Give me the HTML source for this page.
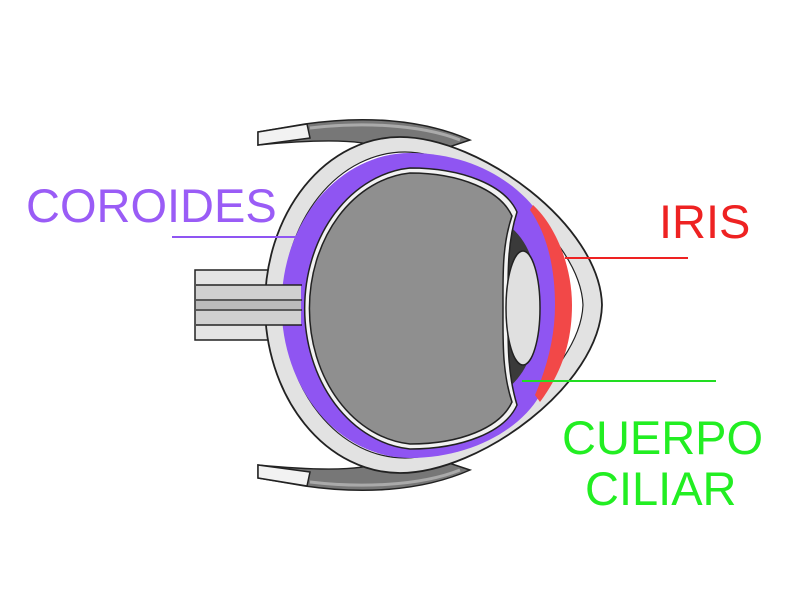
<!DOCTYPE html>
<html><head><style>
html,body{margin:0;padding:0;background:#fff;width:800px;height:600px;overflow:hidden}
svg{position:absolute;left:0;top:0}
.t{font-family:"Liberation Sans",sans-serif;font-size:47px}
</style></head><body>
<svg width="800" height="600" viewBox="0 0 800 600">
<g stroke="#222" stroke-width="1.5">
<path d="M258 132 L305 124 C360 116 420 118 470 140 L440 150 C410 145 390 148 385 150 C370 140 330 138 258 145 Z" fill="#777"/>
<path d="M258 132 L307 124 L310 138 L258 145 Z" fill="#f2f2f2"/>
<path d="M310 128 C360 122 420 124 460 140" fill="none" stroke="#aaa" stroke-width="3"/>
<path d="M258 478 L305 486 C360 494 420 492 470 470 L440 460 C410 465 390 462 385 460 C370 470 330 472 258 465 Z" fill="#777"/>
<path d="M258 478 L307 486 L310 472 L258 465 Z" fill="#f2f2f2"/>
<path d="M310 482 C360 488 420 486 460 470" fill="none" stroke="#aaa" stroke-width="3"/>
</g>
<rect x="195" y="270" width="110" height="70" fill="#e4e4e4" stroke="#222" stroke-width="1.5"/>
<path d="M400 137 A135 168 0 0 0 400 473 C480 473 600 385 602 305 C600 225 480 137 400 137 Z" fill="#e2e2e2" stroke="#222" stroke-width="1.8"/>
<path d="M405 152 A122 153 0 0 0 405 458 C470 458 580 375 583 305 C580 235 470 152 405 152 Z" fill="#fff" stroke="#222" stroke-width="1.2"/>
<path d="M410 153 A128 152 0 0 0 410 458 C470 458 520 430 540 395 C556 360 562 330 562 305 C562 280 556 250 540 215 C515 180 470 153 410 153 Z" fill="#8f55f2"/>
<path d="M533 205 C555 225 572 265 572 305 C572 345 560 375 540 402 L535 395 C548 365 555 335 555 305 C555 270 548 235 530 210 Z" fill="#f24848"/>
<rect x="196" y="285" width="105" height="40" fill="#d0d0d0"/>
<line x1="196" y1="285" x2="302" y2="285" stroke="#222" stroke-width="1.5"/>
<line x1="196" y1="325" x2="302" y2="325" stroke="#222" stroke-width="1.5"/>
<line x1="196" y1="300" x2="302" y2="300" stroke="#333" stroke-width="1.5"/>
<line x1="196" y1="310" x2="302" y2="310" stroke="#333" stroke-width="1.5"/>
<rect x="196" y="301" width="105" height="8" fill="#bbb"/>
<path d="M508 225 C528 240 538 265 538 305 C538 345 528 372 508 388 L500 375 C505 350 505 330 505 305 C505 280 505 260 500 238 Z" fill="#3a3a3a"/>
<path d="M410 168 A115 141 0 0 0 410 449 C462 449 505 432 517 405 C507 372 508 340 508 308 C508 275 507 243 517 212 C505 185 462 168 410 168 Z" fill="#f2f2f2" stroke="#222" stroke-width="1.5"/>
<path d="M410 173 A110 136 0 0 0 410 444 C460 444 500 428 512 402 C502 372 503 340 503 308 C503 275 502 245 512 216 C500 190 460 173 410 173 Z" fill="#8f8f8f" stroke="#222" stroke-width="1.5"/>
<ellipse cx="523" cy="308" rx="17" ry="57" fill="#e0e0e0" stroke="#222" stroke-width="1.5"/>
<line x1="172" y1="237" x2="300" y2="237" stroke="#8f55f2" stroke-width="2"/>
<line x1="565" y1="258" x2="688" y2="258" stroke="#ee2222" stroke-width="2"/>
<line x1="522" y1="381" x2="716" y2="381" stroke="#22dd22" stroke-width="2"/>
<text x="26" y="222" class="t" fill="#9a5cf6">COROIDES</text>
<text x="659" y="238" class="t" fill="#ee2222">IRIS</text>
<text x="562" y="454" class="t" fill="#22ee22">CUERPO</text>
<text x="585" y="505" class="t" fill="#22ee22">CILIAR</text>
</svg>
</body></html>
